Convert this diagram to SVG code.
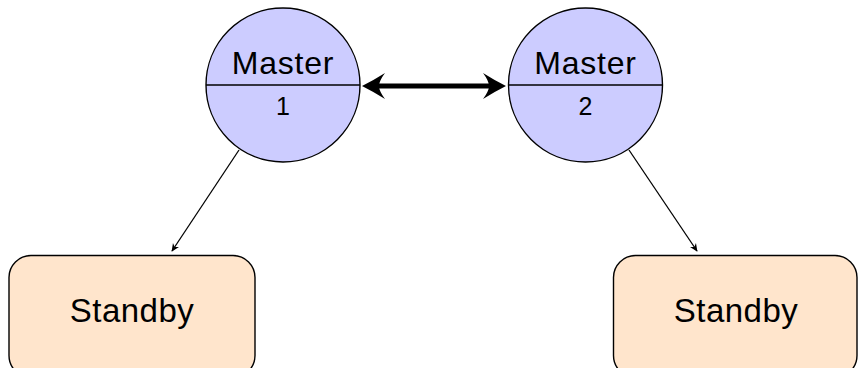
<svg xmlns="http://www.w3.org/2000/svg" width="858" height="368" viewBox="0 0 858 368">
<style>
.master{fill:#ccccff;stroke:#000;stroke-width:1.4}
.standby{fill:#ffe5cc;stroke:#000;stroke-width:1.4}
.div{stroke:#000;stroke-width:1.4}
text{font-family:"Liberation Sans","DejaVu Sans",sans-serif;fill:#000;text-anchor:middle}
.big{font-size:32px;letter-spacing:0.8px}
.num{font-size:25px}
.sb{font-size:33px;letter-spacing:0.5px}
.thin{stroke:#000;stroke-width:1.3;fill:none}
.thick{stroke:#000;stroke-width:5;fill:none}
.head{fill:#000}
</style>
<defs>
<marker id="ah" viewBox="0 0 10 10" refX="9" refY="5" markerWidth="8" markerHeight="8" markerUnits="userSpaceOnUse" orient="auto-start-reverse">
<path d="M0,0.5 L10,5 L0,9.5 L3,5 Z" fill="#000"/>
</marker>
</defs>
<g id="connectors">
<line class="thick" x1="376" y1="86" x2="492" y2="86"/>
<path class="head" d="M362,86 Q374,80 385,73 Q379,81 379,86 Q379,91 385,99 Q374,92 362,86 Z"/>
<path class="head" d="M506,86 Q494,80 483,73 Q489,81 489,86 Q489,91 483,99 Q494,92 506,86 Z"/>
<line class="thin" x1="239" y1="150" x2="172" y2="251" marker-end="url(#ah)"/>
<line class="thin" x1="629" y1="150" x2="697" y2="251" marker-end="url(#ah)"/>
</g>
<g id="master1">
<circle class="master" cx="283" cy="85" r="77"/>
<line class="div" x1="206" y1="85" x2="360" y2="85"/>
<text class="big" x="283" y="74">Master</text>
<text class="num" x="283" y="115">1</text>
</g>
<g id="master2">
<circle class="master" cx="585.5" cy="85" r="77"/>
<line class="div" x1="508.5" y1="85" x2="662.5" y2="85"/>
<text class="big" x="585.5" y="74">Master</text>
<text class="num" x="585.5" y="115">2</text>
</g>
<g id="standby1">
<rect class="standby" x="9" y="255.5" width="246" height="122" rx="22"/>
<text class="sb" x="132" y="322">Standby</text>
</g>
<g id="standby2">
<rect class="standby" x="613.5" y="255.5" width="243.5" height="122" rx="22"/>
<text class="sb" x="736" y="322">Standby</text>
</g>
</svg>
